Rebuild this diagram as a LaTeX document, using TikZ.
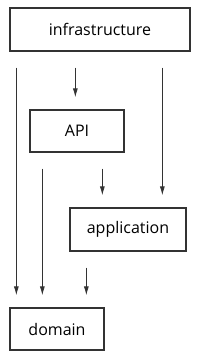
\documentclass[tikz,border=0pt]{standalone}
\usepackage{fontspec}
\setsansfont{Open Sans}
\usetikzlibrary{arrows.meta}
\tikzset{
  layer/.style={draw=black!80, line width=1.3pt, font=\sffamily\fontsize{16}{19}\selectfont, inner sep=0pt},
  dep/.style={draw=black!80, line width=0.8pt, -{Latex[length=9pt,width=5pt]}, shorten <=16pt, shorten >=12pt}
}
\begin{document}
\begin{tikzpicture}[x=1pt, y=-1pt]
  \useasboundingbox (0,0) rectangle (200,359);
  \node[layer, minimum width=180pt, minimum height=43pt] (infra) at (100,29.5) {infrastructure};
  \node[layer, minimum width=94pt, minimum height=42pt] (api) at (77,131) {API};
  \node[layer, minimum width=116pt, minimum height=43pt] (app) at (128,229.5) {application};
  \node[layer, minimum width=94pt, minimum height=42pt] (domain) at (57,329) {domain};
  \draw[dep] ([xshift=7pt]infra.south west) -- ([xshift=7pt]domain.north west);
  \draw[dep] ([xshift=46pt]api.north west |- infra.south) -- ([xshift=46pt]api.north west);
  \draw[dep] ([xshift=93pt]app.north west |- infra.south) -- ([xshift=93pt]app.north west);
  \draw[dep] ([xshift=13pt]api.south west) -- ([xshift=13pt]api.south west |- domain.north);
  \draw[dep] ([xshift=33pt]app.north west |- api.south) -- ([xshift=33pt]app.north west);
  \draw[dep] ([xshift=77pt]domain.north west |- app.south) -- ([xshift=77pt]domain.north west);
\end{tikzpicture}
\end{document}
